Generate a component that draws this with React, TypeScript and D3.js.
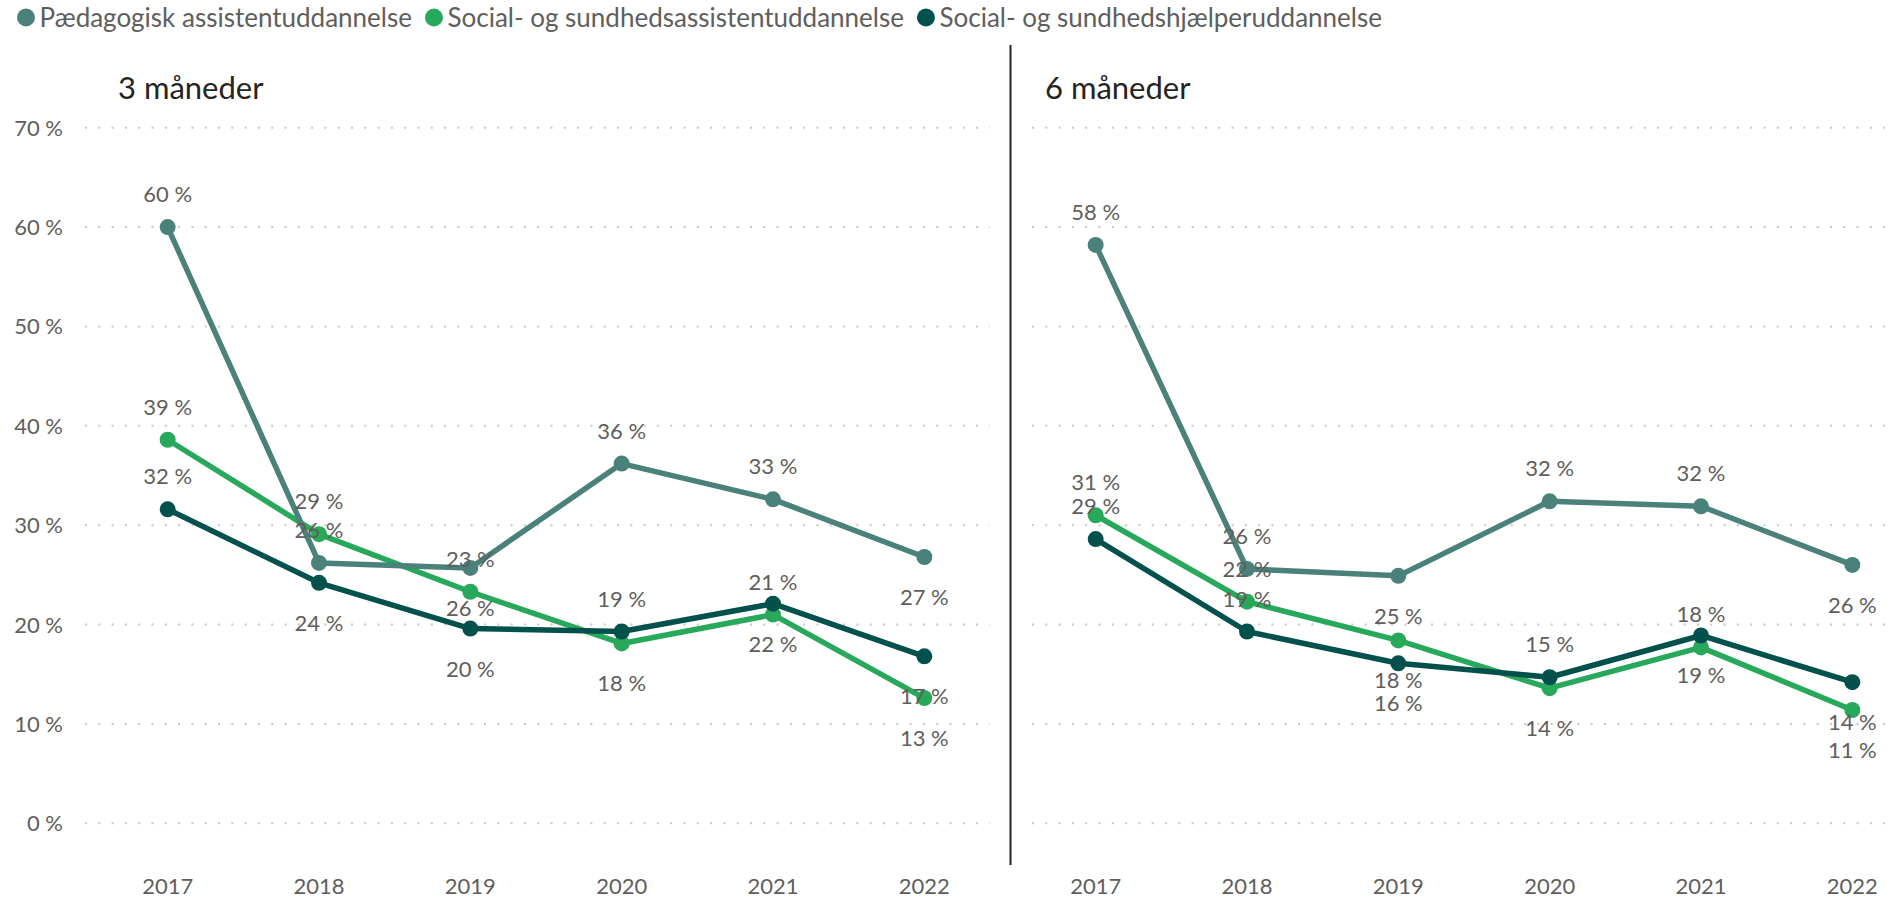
import { useEffect, useRef } from "react";
import * as d3 from "d3";

// years on the x axis
const years = [2017, 2018, 2019, 2020, 2021, 2022];
const yTicks = [0, 10, 20, 30, 40, 50, 60, 70];

const seriesNames = [
  "Pædagogisk assistentuddannelse",
  "Social- og sundhedsassistentuddannelse",
  "Social- og sundhedshjælperuddannelse",
];
const seriesColors = ["#4A817B", "#28A85A", "#02514C"];

// 3 måneder
const ped3 = [60.0, 26.2, 25.7, 36.2, 32.6, 26.8];
const sosuA3 = [38.6, 29.1, 23.3, 18.1, 21.0, 12.6];
const sosuH3 = [31.6, 24.2, 19.6, 19.3, 22.1, 16.8];
// label above (a) or below (b) the point
const ped3Pos = ["a", "a", "b", "a", "a", "b"];
const sosuA3Pos = ["a", "a", "a", "b", "a", "b"];
const sosuH3Pos = ["a", "b", "b", "a", "b", "b"];

// 6 måneder
const ped6 = [58.2, 25.6, 24.9, 32.4, 31.9, 26.0];
const sosuA6 = [31.0, 22.3, 18.4, 13.6, 17.7, 11.4];
const sosuH6 = [28.6, 19.3, 16.1, 14.7, 18.9, 14.2];
const ped6Pos = ["a", "a", "b", "a", "a", "b"];
const sosuA6Pos = ["a", "a", "b", "b", "a", "b"];
const sosuH6Pos = ["a", "a", "b", "a", "b", "b"];

const panels = [
  {
    title: "3 måneder",
    series: [ped3, sosuA3, sosuH3],
    pos: [ped3Pos, sosuA3Pos, sosuH3Pos],
  },
  {
    title: "6 måneder",
    series: [ped6, sosuA6, sosuH6],
    pos: [ped6Pos, sosuA6Pos, sosuH6Pos],
  },
];

const FONT = "'Source Sans Pro', Lato, 'Open Sans', sans-serif";

const App = () => {
  const ref = useRef<SVGSVGElement>(null);

  useEffect(() => {
    draw();
  }, []);

  const draw = () => {
    const width = 1895;
    const height = 900;
    const svg = d3.select(ref.current).attr("width", width).attr("height", height);
    svg.selectAll("*").remove();

    const y = d3.scaleLinear().domain([0, 70]).range([823.3, 127.7]);
    const fmt = (v: number) => `${Math.round(v)} %`;

    // legend
    const legend = svg.append("g").attr("font-family", FONT).attr("font-size", 26);
    let lx = 26;
    seriesNames.forEach((name, i) => {
      legend.append("circle").attr("cx", lx).attr("cy", 17.5).attr("r", 9).attr("fill", seriesColors[i]);
      const t = legend
        .append("text")
        .attr("x", lx + 13.5)
        .attr("y", 26.5)
        .attr("fill", "#605E5C")
        .text(name);
      const w = (t.node() as SVGTextElement).getComputedTextLength();
      lx = lx + 13.5 + w + 22;
    });

    // divider between panels
    svg
      .append("line")
      .attr("x1", 1010.5)
      .attr("x2", 1010.5)
      .attr("y1", 45)
      .attr("y2", 865)
      .attr("stroke", "#252423")
      .attr("stroke-width", 2);

    const panelLayout = [
      { range: [92, 1000], grid: [85, 990], titleX: 118 },
      { range: [1020, 1928], grid: [1032, 1895], titleX: 1045 },
    ];

    panels.forEach((panel, pi) => {
      const lay = panelLayout[pi];
      const x = d3.scalePoint<number>().domain(years).range(lay.range as [number, number]).padding(0.5);
      const g = svg.append("g").attr("font-family", FONT);

      // title
      g.append("text")
        .attr("x", lay.titleX)
        .attr("y", 99)
        .attr("font-size", 31)
        .attr("fill", "#252423")
        .text(panel.title);

      // dotted gridlines
      g.append("g")
        .selectAll("line")
        .data(yTicks)
        .join("line")
        .attr("x1", lay.grid[0])
        .attr("x2", lay.grid[1])
        .attr("y1", (d) => y(d))
        .attr("y2", (d) => y(d))
        .attr("stroke", "#C8C6C4")
        .attr("stroke-width", 2)
        .attr("stroke-dasharray", "2 11.3");

      // y axis labels only on the first panel
      if (pi === 0) {
        g.append("g")
          .selectAll("text")
          .data(yTicks)
          .join("text")
          .attr("x", 63)
          .attr("y", (d) => y(d) + 8)
          .attr("text-anchor", "end")
          .attr("font-size", 22)
          .attr("fill", "#605E5C")
          .text((d) => `${d} %`);
      }

      // x axis labels
      g.append("g")
        .selectAll("text")
        .data(years)
        .join("text")
        .attr("x", (d) => x(d)!)
        .attr("y", 894)
        .attr("text-anchor", "middle")
        .attr("font-size", 22)
        .attr("fill", "#605E5C")
        .text((d) => d);

      const line = d3
        .line<number>()
        .x((_, i) => x(years[i])!)
        .y((d) => y(d));

      // draw order: green, teal, dark
      [1, 0, 2].forEach((si) => {
        const vals = panel.series[si];
        g.append("path")
          .attr("d", line(vals))
          .attr("fill", "none")
          .attr("stroke", seriesColors[si])
          .attr("stroke-width", 5.5)
          .attr("stroke-linejoin", "round");
        g.append("g")
          .selectAll("circle")
          .data(vals)
          .join("circle")
          .attr("cx", (_, i) => x(years[i])!)
          .attr("cy", (d) => y(d))
          .attr("r", 8)
          .attr("fill", seriesColors[si]);
      });

      // data labels
      [0, 1, 2].forEach((si) => {
        const vals = panel.series[si];
        const pos = panel.pos[si];
        g.append("g")
          .selectAll("text")
          .data(vals)
          .join("text")
          .attr("x", (_, i) => x(years[i])!)
          .attr("y", (d, i) => y(d) + (pos[i] === "a" ? -33 : 40) + 8)
          .attr("text-anchor", "middle")
          .attr("font-size", 22)
          .attr("fill", "#605E5C")
          .text((d) => fmt(d));
      });
    });
  };

  return (
    <div style={{ position: "absolute", left: 0, top: 0 }}>
      <svg ref={ref} style={{ display: "block" }}></svg>
    </div>
  );
};

export default App;
